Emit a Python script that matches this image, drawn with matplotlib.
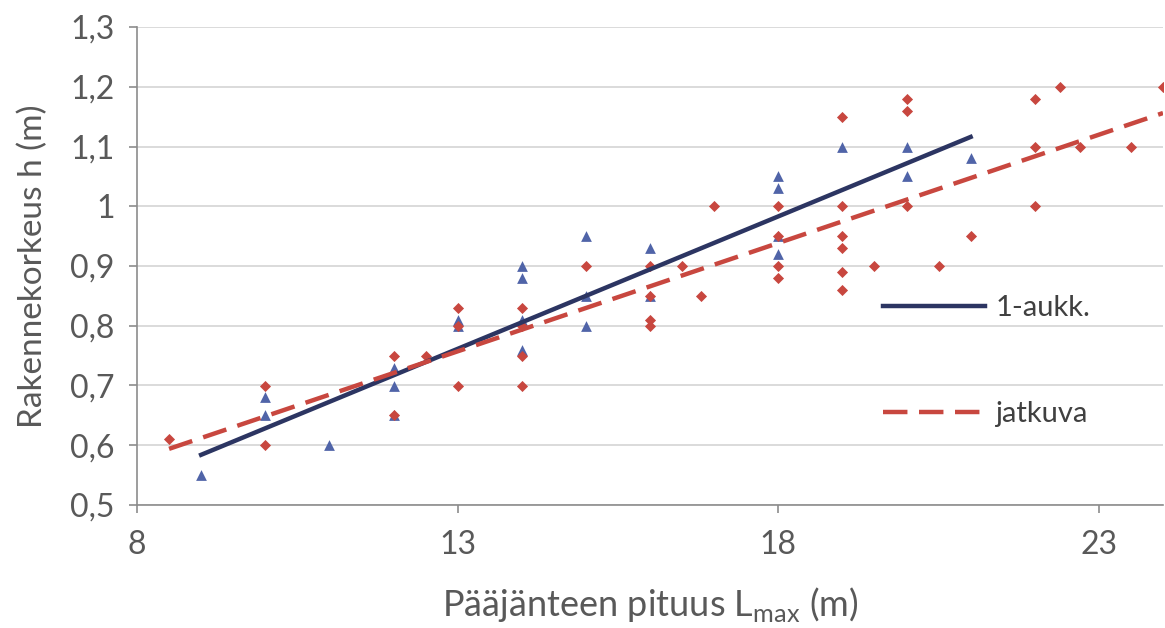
import numpy as np
import matplotlib.pyplot as plt
from matplotlib.ticker import FuncFormatter, MultipleLocator

# 1-aukk. (triangles)
tri_x = [9, 10, 10, 11, 12, 12, 12, 13, 13, 14, 14, 14, 14,
         15, 15, 15, 16, 16, 18, 18, 18, 18, 19, 20, 20, 21]
tri_y = [0.55, 0.68, 0.65, 0.60, 0.73, 0.70, 0.65, 0.81, 0.80, 0.90, 0.88, 0.81, 0.76,
         0.95, 0.85, 0.80, 0.93, 0.85, 1.05, 1.03, 0.95, 0.92, 1.10, 1.10, 1.05, 1.08]

# jatkuva (diamonds)
dia_x = [8.5, 10, 10, 12, 12, 12.5, 13, 13, 13, 14, 14, 14, 14,
         15, 16, 16, 16, 16, 16.5, 16.8, 17, 18, 18, 18, 18,
         19, 19, 19, 19, 19, 19, 19.5, 20, 20, 20, 20.5, 21,
         22, 22, 22, 22.4, 22.7, 23.5, 24]
dia_y = [0.61, 0.70, 0.60, 0.75, 0.65, 0.75, 0.83, 0.80, 0.70, 0.83, 0.80, 0.75, 0.70,
         0.90, 0.90, 0.85, 0.81, 0.80, 0.90, 0.85, 1.00, 1.00, 0.95, 0.90, 0.88,
         1.15, 1.00, 0.95, 0.93, 0.89, 0.86, 0.90, 1.18, 1.16, 1.00, 0.90, 0.95,
         1.18, 1.10, 1.00, 1.20, 1.10, 1.10, 1.20]

# trend lines (end points)
fit1_x = [9, 21]
fit1_y = [0.584, 1.116]
fit2_x = [8.5, 24]
fit2_y = [0.594, 1.156]

grey = '#595959'
plt.rcParams['font.family'] = ['Lato', 'DejaVu Sans']

fig = plt.figure(figsize=(11.65, 6.28), dpi=100)
ax = fig.add_axes([137 / 1165, 1 - 505 / 628, (1163 - 137) / 1165, (505 - 27) / 628])

ax.scatter(tri_x, tri_y, marker='^', s=60, color='#5064a8', zorder=3, linewidths=0)
ax.scatter(dia_x, dia_y, marker='D', s=32, color='#c8473f', zorder=3, linewidths=0)

ax.plot(fit1_x, fit1_y, color='#2c3562', lw=3.2, label='1-aukk.', zorder=4)
ax.plot(fit2_x, fit2_y, color='#c8473f', lw=3.2, dashes=(5.5, 2.6),
        label='jatkuva', zorder=4)

ax.set_xlim(8, 24)
ax.set_ylim(0.5, 1.3)
ax.set_xticks([8, 13, 18, 23])
ax.yaxis.set_major_locator(MultipleLocator(0.1))
ax.yaxis.set_major_formatter(FuncFormatter(lambda v, p: f'{v:g}'.replace('.', ',')))

ax.grid(axis='y', color='#d4d4d4', lw=1.2)
ax.set_axisbelow(True)
for s in ['top', 'right']:
    ax.spines[s].set_visible(False)
for s in ['left', 'bottom']:
    ax.spines[s].set_color('#8c8c8c')
    ax.spines[s].set_linewidth(1.2)
ax.tick_params(colors='#8c8c8c', labelcolor=grey, labelsize=23, length=6, width=1.2)
ax.tick_params(axis='x', pad=12)
ax.tick_params(axis='y', pad=10)

ax.set_xlabel('Pääjänteen pituus L$_{\\mathregular{max}}$ (m)', fontsize=26,
              color=grey, labelpad=18)
ax.set_ylabel('Rakennekorkeus h (m)', fontsize=24, color=grey, labelpad=16)

leg = ax.legend(loc='upper left', bbox_to_anchor=(883 / 1165, 1 - 295 / 628),
                bbox_transform=fig.transFigure, frameon=False, fontsize=21,
                handlelength=3.5, handletextpad=0.35, labelspacing=2.75,
                borderpad=0, borderaxespad=0)
for t in leg.get_texts():
    t.set_color('#404040')

fig.savefig('out.png', dpi=100)
